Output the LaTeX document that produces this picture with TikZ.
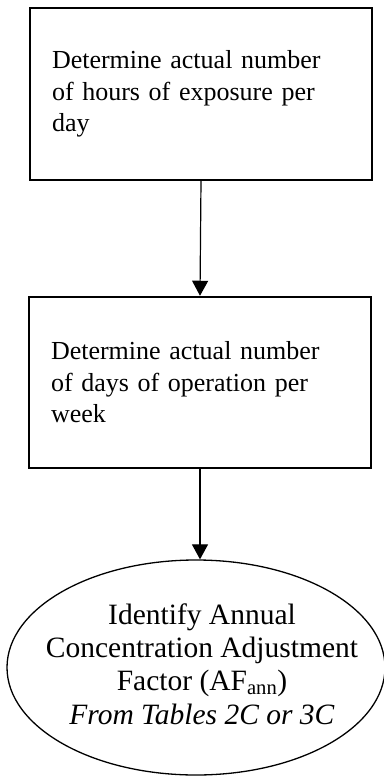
\documentclass[tikz,border=0pt]{standalone}
\usepackage{fontspec}
\setmainfont{Liberation Serif}
\usetikzlibrary{shapes.geometric,arrows.meta}

\tikzstyle{stepbox}=[rectangle, draw=black, line width=2pt, text width=298pt, inner xsep=22pt, inner ysep=0pt, minimum height=171.3pt, align=left, font=\fontsize{26}{31.3}\selectfont]
\tikzstyle{oval}=[ellipse, draw=black, line width=1.3pt, minimum width=378pt, minimum height=215pt, inner sep=0pt]
\tikzstyle{oval text}=[align=center, inner sep=0pt, font=\fontsize{29.5}{33.3}\selectfont]
\tikzstyle{flow}=[line width=1.2pt, -{Triangle[width=16pt,length=15pt]}]

\begin{document}
\begin{tikzpicture}[x=1pt, y=-1pt]
	\useasboundingbox (0,0) rectangle (383,776);

	% Steps
	\node[stepbox] (hours) at (201,93.9) {Determine actual number\\ of hours of exposure per\\ day};
	\node[stepbox] (days) at (200,382.4) {Determine actual number\\ of days of operation per\\ week};

	% Result
	\node[oval] (annual) at (196,667.5) {};
	\node[oval text] (annualtext) at (202,664) {Identify Annual\\ Concentration Adjustment\\ Factor (AF\textsubscript{ann})\\ \textit{From Tables 2C or 3C}};

	\draw[flow] (hours.south) -- (days.north);
	\draw[flow] (days.south) -- (days.south |- annual.north);
\end{tikzpicture}
\end{document}
